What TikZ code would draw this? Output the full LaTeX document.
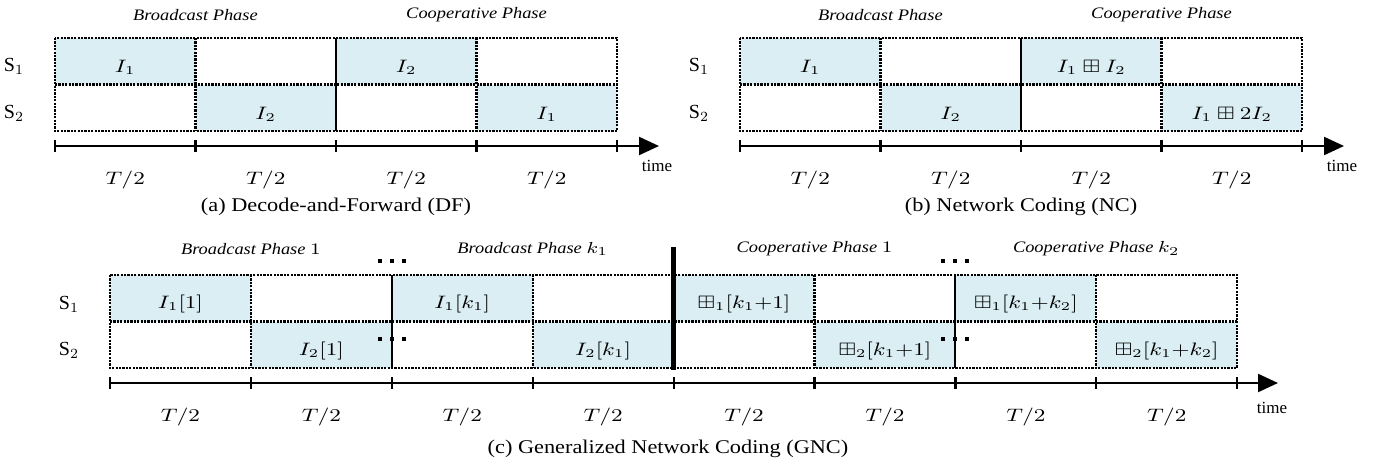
\documentclass[tikz,border=0pt]{standalone}
\usepackage{amsmath}
\usepackage{amssymb}
\usepackage{graphicx}
\usepackage[no-math]{fontspec}
\setmainfont{Liberation Serif}
\newfontfamily\widefont{Liberation Serif}[FakeStretch=1.15]
\usetikzlibrary{arrows.meta, positioning}
\definecolor{cellblue}{RGB}{218,238,243}
\newcommand{\wide}[1]{\scalebox{1.25}[1]{#1}}

\begin{document}
\begin{tikzpicture}[x=0.5pt, y=-0.5pt,
    grid/.style={line width=1.1pt, dash pattern=on 1.1pt off 0.6pt},
    divider/.style={line width=1.2pt},
    axis/.style={line width=1.1pt},
    phase/.style={font=\widefont\fontsize{8}{10}\selectfont\itshape},
    slot/.style={font=\fontsize{9}{11}\selectfont},
    user/.style={font=\fontsize{10}{12}\selectfont},
    timelabel/.style={font=\fontsize{8.5}{10}\selectfont},
    caption/.style={font=\widefont\fontsize{9.7}{11}\selectfont}]
    \useasboundingbox (0,0) rectangle (1387,471);

    % Panels (a) and (b)
    \foreach \px/\nm in {55/a, 740/b} {
        % Slots
        \foreach \c in {0,...,3}
            \fill[cellblue] (\px+140.5*\c,{38+46.5*mod(\c,2)}) rectangle ++(140.5,46.5);
        % Frame
        \draw[grid] (\px,38) rectangle (\px+562,131);
        \draw[grid] (\px,84.5) -- (\px+562,84.5);
        \foreach \c in {1,3}
            \draw[grid] (\px+140.5*\c,38) -- (\px+140.5*\c,131);
        \draw[divider] (\px+281,38) -- (\px+281,131);
        % Time axis
        \draw[axis, -{Triangle[length=10pt, width=9pt]}] (\px,146) -- (\px+604,146);
        \foreach \c in {0,...,4}
            \draw[axis] (\px+140.5*\c,140) -- (\px+140.5*\c,152);
        \foreach \c in {0,...,3}
            \node[slot] (\nm-t\c) at (\px+70.25+140.5*\c,180) {\wide{$T/2$}};
        \node[timelabel] (\nm-time) at (\px+602,166) {time};
        % Labels
        \node[phase] (\nm-bp) at (\px+140.5,15) {Broadcast Phase};
        \node[phase] (\nm-cp) at (\px+421.5,15) {Cooperative Phase};
        \node[user] (\nm-s1) at (\px-41,66) {S$_1$};
        \node[user] (\nm-s2) at (\px-41,113) {S$_2$};
    }

    % Slot contents (a)
    \node[slot] (a-i1) at (125.25,67) {\wide{$I_1$}};
    \node[slot] (a-i2) at (265.75,114) {\wide{$I_2$}};
    \node[slot] (a-i3) at (406.25,67) {\wide{$I_2$}};
    \node[slot] (a-i4) at (546.75,114) {\wide{$I_1$}};
    % Slot contents (b)
    \node[slot] (b-i1) at (810.25,67) {\wide{$I_1$}};
    \node[slot] (b-i2) at (950.75,114) {\wide{$I_2$}};
    \node[slot] (b-i3) at (1091.25,67) {\wide{$I_1 \boxplus I_2$}};
    \node[slot] (b-i4) at (1231.75,114) {\wide{$I_1 \boxplus 2I_2$}};

    % Panel (c)
    \foreach \c in {0,...,7}
        \fill[cellblue] (110+140.9*\c,{275+46.5*mod(\c,2)}) rectangle ++(140.9,46.5);
    \draw[grid] (110,275) rectangle (1237.2,368);
    \draw[grid] (110,321.5) -- (1237.2,321.5);
    \foreach \c in {1,3,5,7}
        \draw[grid] (110+140.9*\c,275) -- (110+140.9*\c,368);
    \foreach \c in {2,6}
        \draw[divider, line width=1pt] (110+140.9*\c,275) -- (110+140.9*\c,368);
    \draw[divider, line width=2.2pt] (673.6,247) -- (673.6,370);
    % dots
    \foreach \dx in {391.8,955.4}
        \foreach \dy in {261,339}
            \foreach \k in {-1,0,1}
                \fill (\dx+12*\k-2,\dy-2) rectangle ++(4,4);
    % Time axis
    \draw[axis, -{Triangle[length=10pt, width=9pt]}] (110,383) -- (1278,383);
    \foreach \c in {0,...,8}
        \draw[axis] (110+140.9*\c,377) -- (110+140.9*\c,389);
    \foreach \c in {0,...,7}
        \node[slot] (c-t\c) at (180.45+140.9*\c,417) {\wide{$T/2$}};
    \node[timelabel] (c-time) at (1272,408) {time};
    % Labels
    \node[phase] (c-bp1) at (250.9,249) {Broadcast Phase \wide{$1$}};
    \node[phase] (c-bpk) at (532.7,249) {Broadcast Phase \wide{$k_1$}};
    \node[phase] (c-cp1) at (814.5,249) {Cooperative Phase \wide{$1$}};
    \node[phase] (c-cpk) at (1096.3,249) {Cooperative Phase \wide{$k_2$}};
    \node[user] (c-s1) at (69,304) {S$_1$};
    \node[user] (c-s2) at (69,350.5) {S$_2$};
    % Slot contents (c)
    \node[slot] (c-i1) at (180.45,304) {\wide{$I_1[1]$}};
    \node[slot] (c-i2) at (321.35,350.5) {\wide{$I_2[1]$}};
    \node[slot] (c-i3) at (462.25,304) {\wide{$I_1[k_1]$}};
    \node[slot] (c-i4) at (603.15,350.5) {\wide{$I_2[k_1]$}};
    \node[slot] (c-i5) at (744.05,304) {\wide{$\boxplus_1[k_1{+}1]$}};
    \node[slot] (c-i6) at (884.95,350.5) {\wide{$\boxplus_2[k_1{+}1]$}};
    \node[slot] (c-i7) at (1025.85,304) {\wide{$\boxplus_1[k_1{+}k_2]$}};
    \node[slot] (c-i8) at (1166.75,350.5) {\wide{$\boxplus_2[k_1{+}k_2]$}};

    % Captions
    \node[caption] (cap-a) at (336,207) {(a) Decode-and-Forward (DF)};
    \node[caption] (cap-b) at (1021,207) {(b) Network Coding (NC)};
    \node[caption] (cap-c) at (668,449) {(c) Generalized Network Coding (GNC)};
\end{tikzpicture}
\end{document}
